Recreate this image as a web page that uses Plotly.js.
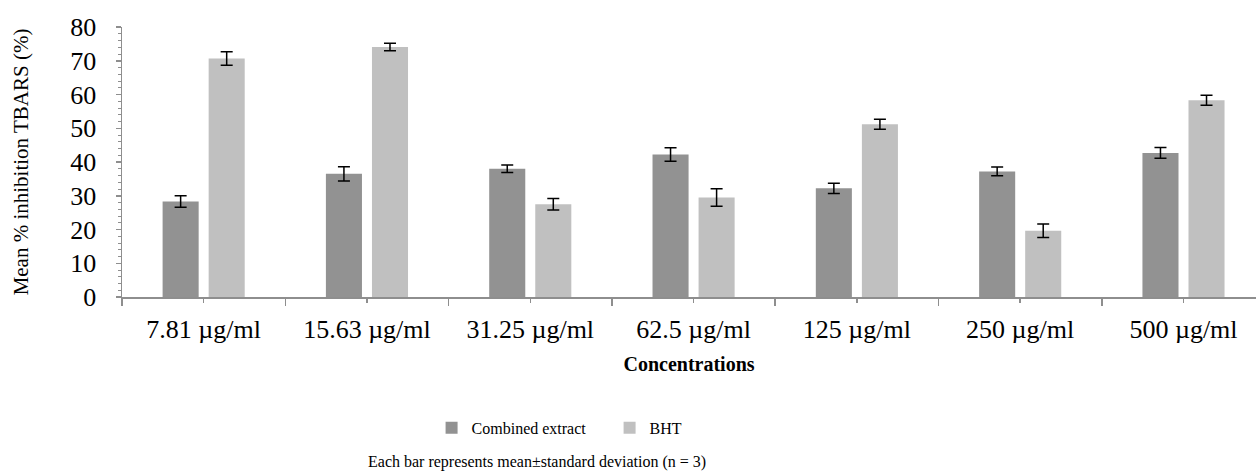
<!DOCTYPE html>
<html>
<head>
<meta charset="utf-8">
<script src="https://cdn.plot.ly/plotly-3.0.1.min.js"></script>
<style>html,body{margin:0;padding:0;background:#fff;}#chart{width:1256px;height:475px;}</style>
</head>
<body>
<div id="chart"></div>
<script>
const categories = ["7.81 µg/ml", "15.63 µg/ml", "31.25 µg/ml", "62.5 µg/ml", "125 µg/ml", "250 µg/ml", "500 µg/ml"];
const combinedExtract = [28.3, 36.5, 38.0, 42.2, 32.2, 37.2, 42.7];
const combinedSD = [1.7, 2.1, 1.1, 2.0, 1.5, 1.3, 1.6];
const bht = [70.7, 74.1, 27.5, 29.5, 51.2, 19.6, 58.3];
const bhtSD = [2.0, 1.1, 1.7, 2.6, 1.5, 2.0, 1.5];
const yTicks = [0, 10, 20, 30, 40, 50, 60, 70, 80];

const xPos = categories.map((_, i) => i);
const font = "Liberation Serif, Times New Roman, serif";

const traces = [
  {
    type: "bar", name: "Combined extract", x: xPos, y: combinedExtract,
    marker: {color: "#929292", line: {width: 0}},
    error_y: {type: "data", array: combinedSD, visible: true, color: "#000", thickness: 1.5, width: 6}
  },
  {
    type: "bar", name: "BHT", x: xPos, y: bht,
    marker: {color: "#c0c0c0", line: {width: 0}},
    error_y: {type: "data", array: bhtSD, visible: true, color: "#000", thickness: 1.5, width: 6}
  }
];

const layout = {
  width: 1256, height: 475,
  paper_bgcolor: "#fff", plot_bgcolor: "#fff",
  margin: {l: 122, r: 0, t: 27, b: 178},
  barmode: "group", bargap: 0.436, bargroupgap: 0.217,
  font: {family: font, color: "#000"},
  xaxis: {
    range: [-0.5, 6.444], tickmode: "array", tickvals: xPos, ticktext: categories,
    showline: true, linecolor: "#8e8e8e", linewidth: 1.5,
    ticks: "outside", ticklen: 4, tickcolor: "#8e8e8e", tickwidth: 1.5,
    minor: {tickmode: "linear", tick0: 0.5, dtick: 1, ticks: "outside", ticklen: 7, tickcolor: "#8e8e8e", tickwidth: 1.5, showgrid: false},
    showgrid: false, zeroline: false,
    tickfont: {size: 26, family: font, color: "#000"},
    ticklabelstandoff: 4,
    title: {text: "<b>Concentrations</b>", font: {size: 20, family: font, color: "#000"}, standoff: 14},
    automargin: false, fixedrange: true
  },
  yaxis: {
    range: [0, 80], tickmode: "array", tickvals: yTicks,
    showline: true, linecolor: "#8e8e8e", linewidth: 1.5,
    ticks: "outside", ticklen: 5, tickcolor: "#8e8e8e", tickwidth: 1.5,
    minor: {dtick: 2, ticks: "outside", ticklen: 3, tickcolor: "#8e8e8e", tickwidth: 1, showgrid: false},
    showgrid: false, zeroline: false,
    tickfont: {size: 26, family: font, color: "#000"},
    ticklabelstandoff: 14,
    title: {text: "Mean % inhibition TBARS (%)", font: {size: 21, family: font, color: "#000"}, standoff: 36},
    automargin: false, fixedrange: true
  },
  showlegend: true,
  legend: {
    orientation: "h", x: 0.273, y: -0.485, xanchor: "left", yanchor: "middle",
    font: {size: 16, family: font, color: "#000"},
    itemwidth: 30, entrywidth: 133, traceorder: "normal", bgcolor: "rgba(0,0,0,0)"
  },
  annotations: [{
    text: "Each bar represents mean±standard deviation (n = 3)",
    xref: "paper", yref: "paper", x: 0.366, y: -0.611, xanchor: "center", yanchor: "middle",
    showarrow: false, font: {size: 16, family: font, color: "#000"}
  }]
};

Plotly.newPlot("chart", traces, layout, {displayModeBar: false, staticPlot: true});
</script>
</body>
</html>
